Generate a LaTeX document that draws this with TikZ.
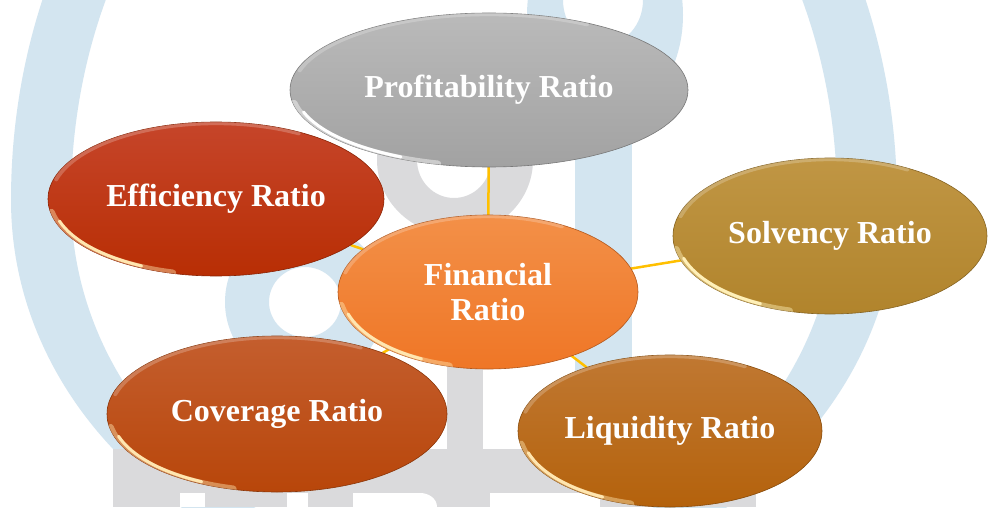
\documentclass[tikz,border=0pt]{standalone}
\usepackage{fontspec}
\setmainfont{Liberation Serif}
\usetikzlibrary{shapes.geometric}

\pgfdeclarelayer{wm}
\pgfdeclarelayer{links}
\pgfsetlayers{wm,links,main}

\definecolor{wmblue}{HTML}{D3E5F0}
\definecolor{wmgray}{HTML}{DADADC}
\definecolor{linkgold}{HTML}{FFC000}
\definecolor{efftop}{HTML}{C6452A}
\definecolor{effbot}{HTML}{B82E04}
\definecolor{proftop}{HTML}{BABABA}
\definecolor{profbot}{HTML}{A2A2A2}
\definecolor{covtop}{HTML}{C45E2E}
\definecolor{covbot}{HTML}{B8460A}
\definecolor{liqtop}{HTML}{C07832}
\definecolor{liqbot}{HTML}{B4620C}
\definecolor{solvtop}{HTML}{C09644}
\definecolor{solvbot}{HTML}{B1842C}
\definecolor{fintop}{HTML}{F39048}
\definecolor{finbot}{HTML}{EF7626}
\definecolor{rimwarm}{HTML}{FFE6B0}
\definecolor{rimgold}{HTML}{FFF0B8}

\tikzset{
  bubble/.style={ellipse, inner sep=0pt, outer sep=0pt, text=white, align=center,
    font=\bfseries\fontsize{32}{35}\selectfont, line width=0.6pt},
  link/.style={draw=linkgold, line width=2.5pt},
  rim/.style={line width=3pt, line cap=round},
  sheen/.style={draw=white, opacity=0.22, line width=4pt, line cap=round}
}

% glossy ellipse: name, x, y, x radius, y radius, top colour, bottom colour, text, rim colour
\newcommand\ratiobubble[9]{%
  \node[bubble, minimum width={2*#4pt}, minimum height={2*#5pt},
        top color=#6, bottom color=#7, draw=#7!75!black] (#1) at (#2,#3) {#8};
  \begin{scope}[shift={(#2,#3)}, xscale=#4, yscale=#5]
    \clip (0,0) circle (1);
    \draw[sheen] (60:0.985) arc[start angle=60, end angle=165, radius=0.985];
    \draw[rim, draw=#9, opacity=0.45, line width=7pt] (190:0.995) arc[start angle=190, end angle=255, radius=0.995];
    \draw[rim, draw=#9] (197:0.975) arc[start angle=197, end angle=243, radius=0.975];
  \end{scope}
}

\begin{document}
\begin{tikzpicture}[x=1pt, y=1pt]
\useasboundingbox (0,0) rectangle (988,507);

% faint logo behind the diagram
\begin{pgfonlayer}{wm}
  \fill[white] (0,0) rectangle (988,507);
  \begin{scope}
    \clip (0,0) rectangle (988,507);
    % large outer ring: taller above its widest point than below
    \fill[wmblue, even odd rule]
      (11,307) arc[start angle=180, end angle=0, x radius=443, y radius=540]
               arc[start angle=0, end angle=-180, x radius=443, y radius=390] -- cycle
      (71,307) arc[start angle=180, end angle=0, x radius=383, y radius=480]
               arc[start angle=0, end angle=-180, x radius=383, y radius=360] -- cycle;
    % upper loop with its stem
    \fill[wmblue, even odd rule]
      (605,492) ellipse [x radius=78, y radius=105]
      (603,507) ellipse [x radius=40, y radius=45];
    \fill[wmblue] (575,0) rectangle (632,447);
    % lower blue loop
    \fill[wmblue, even odd rule]
      (305,205) circle (80)
      (305,205) ellipse [x radius=36, y radius=35];
    % grey loop
    \fill[wmgray, even odd rule]
      (455,347) ellipse [x radius=78, y radius=75]
      (454,347) ellipse [x radius=37, y radius=38];
    \fill[wmgray] (447,0) rectangle (483,207);
    % grey lettering along the foot
    \fill[wmgray] (113,0) rectangle (756,58);
    \fill[white] (180,0) rectangle (205,14);
    \fill[white] (287,0) rectangle (308,14);
    \fill[white] (353,0) -- (353,14) -- (420,14) to[out=0,in=90] (437,0) -- cycle;
    \fill[white] (490,0) rectangle (600,14);
  \end{scope}
\end{pgfonlayer}

% ratio bubbles
\ratiobubble{eff}{216}{308}{168}{77}{efftop}{effbot}{Efficiency Ratio}{rimwarm}
\ratiobubble{prof}{489}{417}{199}{77}{proftop}{profbot}{Profitability Ratio}{white}
\ratiobubble{cov}{277}{93}{170}{78}{covtop}{covbot}{Coverage Ratio}{rimwarm}
\ratiobubble{liq}{670}{76}{152}{76}{liqtop}{liqbot}{Liquidity Ratio}{rimwarm}
\ratiobubble{solv}{830}{271}{157}{78}{solvtop}{solvbot}{Solvency Ratio}{rimgold}
\ratiobubble{fin}{488}{215}{150}{77}{fintop}{finbot}{Financial\\Ratio}{rimwarm}

% connectors from the centre
\begin{pgfonlayer}{links}
  \foreach \n in {prof,eff,solv,cov,liq}
    \draw[link] (fin) -- (\n);
\end{pgfonlayer}
\end{tikzpicture}
\end{document}
